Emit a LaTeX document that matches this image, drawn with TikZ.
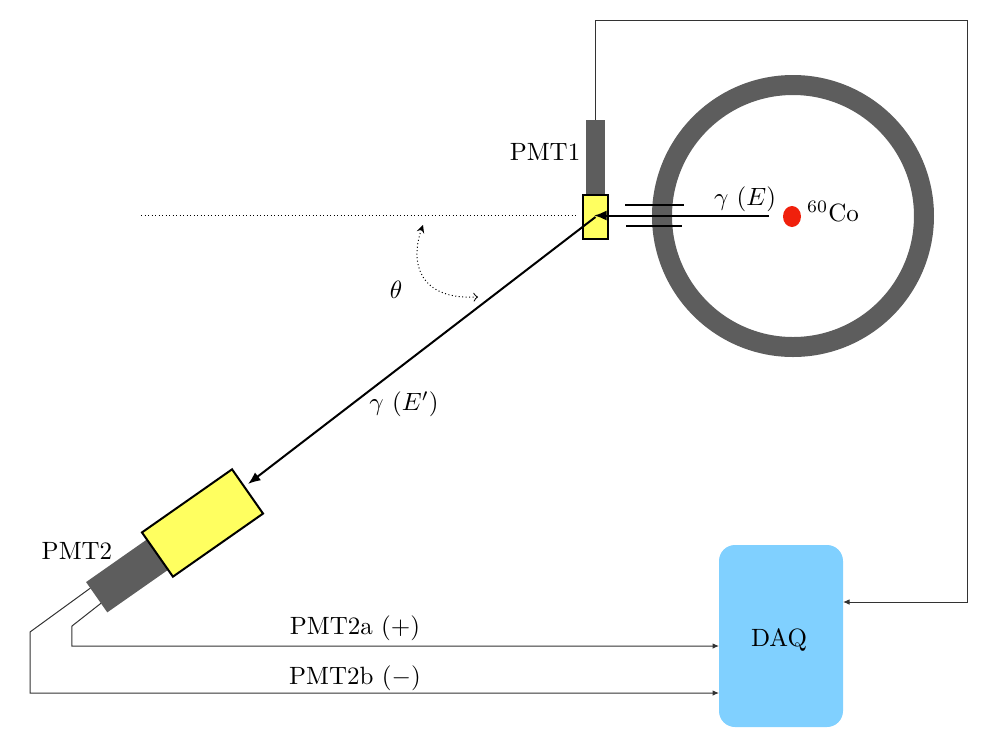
\documentclass[tikz,border=0pt]{standalone}
\usepackage{amsmath}
\usepackage{tikz}
\usetikzlibrary{arrows,arrows.meta,calc,positioning,shapes}
\newdimen\pxdim
\pxdim=.4pt
\definecolor{pmtgray}{RGB}{93,93,93}
\definecolor{scintyellow}{RGB}{255,255,96}
\definecolor{daqblue}{RGB}{128,208,255}
\definecolor{sourcered}{RGB}{240,32,12}
\tikzstyle{pmt}=[
  fill=pmtgray,
  inner sep=0pt,
  outer sep=0pt,
  rectangle,
]
\tikzstyle{scint}=[
  draw=black,
  fill=scintyellow,
  inner sep=0pt,
  outer sep=0pt,
  rectangle,
  thick,
]
\tikzstyle{daqbox}=[
  fill=daqblue,
  inner sep=0pt,
  minimum height=182\pxdim,
  minimum width=124\pxdim,
  outer sep=0pt,
  rectangle,
  rounded corners=16\pxdim,
]
\tikzstyle{shield}=[
  circle,
  draw=pmtgray,
  inner sep=0pt,
  line width=20\pxdim,
  minimum size=262\pxdim,
  outer sep=0pt,
]
\tikzstyle{source}=[
  ellipse,
  fill=sourcered,
  inner sep=0pt,
  minimum height=21\pxdim,
  minimum width=18\pxdim,
]
\tikzstyle{wire}=[
  -{Latex[length=2.6pt,width=2.2pt]},
  draw=black!80,
  line width=.4pt,
]
\tikzstyle{beam}=[
  draw=black,
  thick,
]
\tikzstyle{beamtip}=[
  -{Latex[length=5pt,width=4pt]},
]
\tikzstyle{guide}=[
  densely dotted,
  draw=black,
  line width=.4pt,
]
\tikzstyle{label}=[
  inner sep=0pt,
  outer sep=0pt,
]
\begin{document}
\begin{tikzpicture}[x=\pxdim,y=-\pxdim]
    \useasboundingbox (0,0) rectangle (1003,755);
    % shielding and source
    \node (shield) [shield] at (793,216) {};
    \node (source) [source] at (792,216.5) {};
    \node (cobalt) [label] at (833,212) {$^{60}$Co};
    \coordinate (sourceout) at (769,215.5);
    \coordinate (colupleft) at (625,205);
    \coordinate (colupright) at (684,205);
    \coordinate (collowleft) at (626,226);
    \coordinate (collowright) at (682,226);
    \draw [beam] (colupleft) -- (colupright);
    \draw [beam] (collowleft) -- (collowright);
    % first detector
    \node (pmtone) [pmt, minimum width=19\pxdim, minimum height=75\pxdim] at (595,157.5) {};
    \node (scintone) [scint, minimum width=25\pxdim, minimum height=44\pxdim] at (595.5,217) {};
    \node (pmtonelabel) [label] at (545,152) {PMT1};
    % second detector
    \node (pmttwo) [pmt, rotate=35, minimum width=74\pxdim, minimum height=37\pxdim] at (127,576) {};
    \node (scinttwo) [scint, rotate=35, minimum width=110\pxdim, minimum height=54\pxdim] at (202.5,523) {};
    \node (pmttwolabel) [label] at (77,551) {PMT2};
    % data acquisition
    \node (daq) [daqbox] at (781,636) {};
    \node (daqlabel) [label] at (779,640) {DAQ};
    % beams
    \coordinate (beamhit) at (594,215.5);
    \coordinate (beamend) at (248,484);
    \draw [beam, beamtip] (sourceout) -- (beamhit);
    \draw [beam, beamtip] (scintone.center) -- (beamend);
    \node (gammae) [label] at (745,199) {$\gamma~(E)$};
    \node (gammaep) [label] at (404,404) {$\gamma~(E')$};
    % angle
    \coordinate (axisleft) at (141,215);
    \coordinate (axisright) at (577,215);
    \coordinate (anglea) at (423,225);
    \coordinate (angleb) at (478,297);
    \draw [guide] (axisleft) -- (axisright);
    \draw [guide, stealth-to] (anglea) .. controls (410,262) and (418,300) .. (angleb);
    \node (theta) [label] at (396,290) {$\theta$};
    % cabling
    \coordinate (wirea) at ($(pmttwo.north west)!.7!(pmttwo.south west)$);
    \coordinate (wireb) at ($(pmttwo.north west)!.2!(pmttwo.south west)$);
    \coordinate (benda) at (72,626);
    \coordinate (bendb) at (30,632);
    \coordinate (daqa) at (daq.west |- 0,646);
    \coordinate (daqb) at (daq.west |- 0,693);
    \coordinate (daqone) at (daq.east |- 0,602);
    \draw [wire] (wirea) -- (benda) |- (daqa);
    \draw [wire] (wireb) -- (bendb) |- (daqb);
    \draw [wire] (pmtone.north) |- (967,20) |- (daqone);
    \node (wirealabel) [label] at (355,628) {PMT2a $(+)$};
    \node (wireblabel) [label] at (355,678) {PMT2b $(-)$};
  \end{tikzpicture}
\end{document}
